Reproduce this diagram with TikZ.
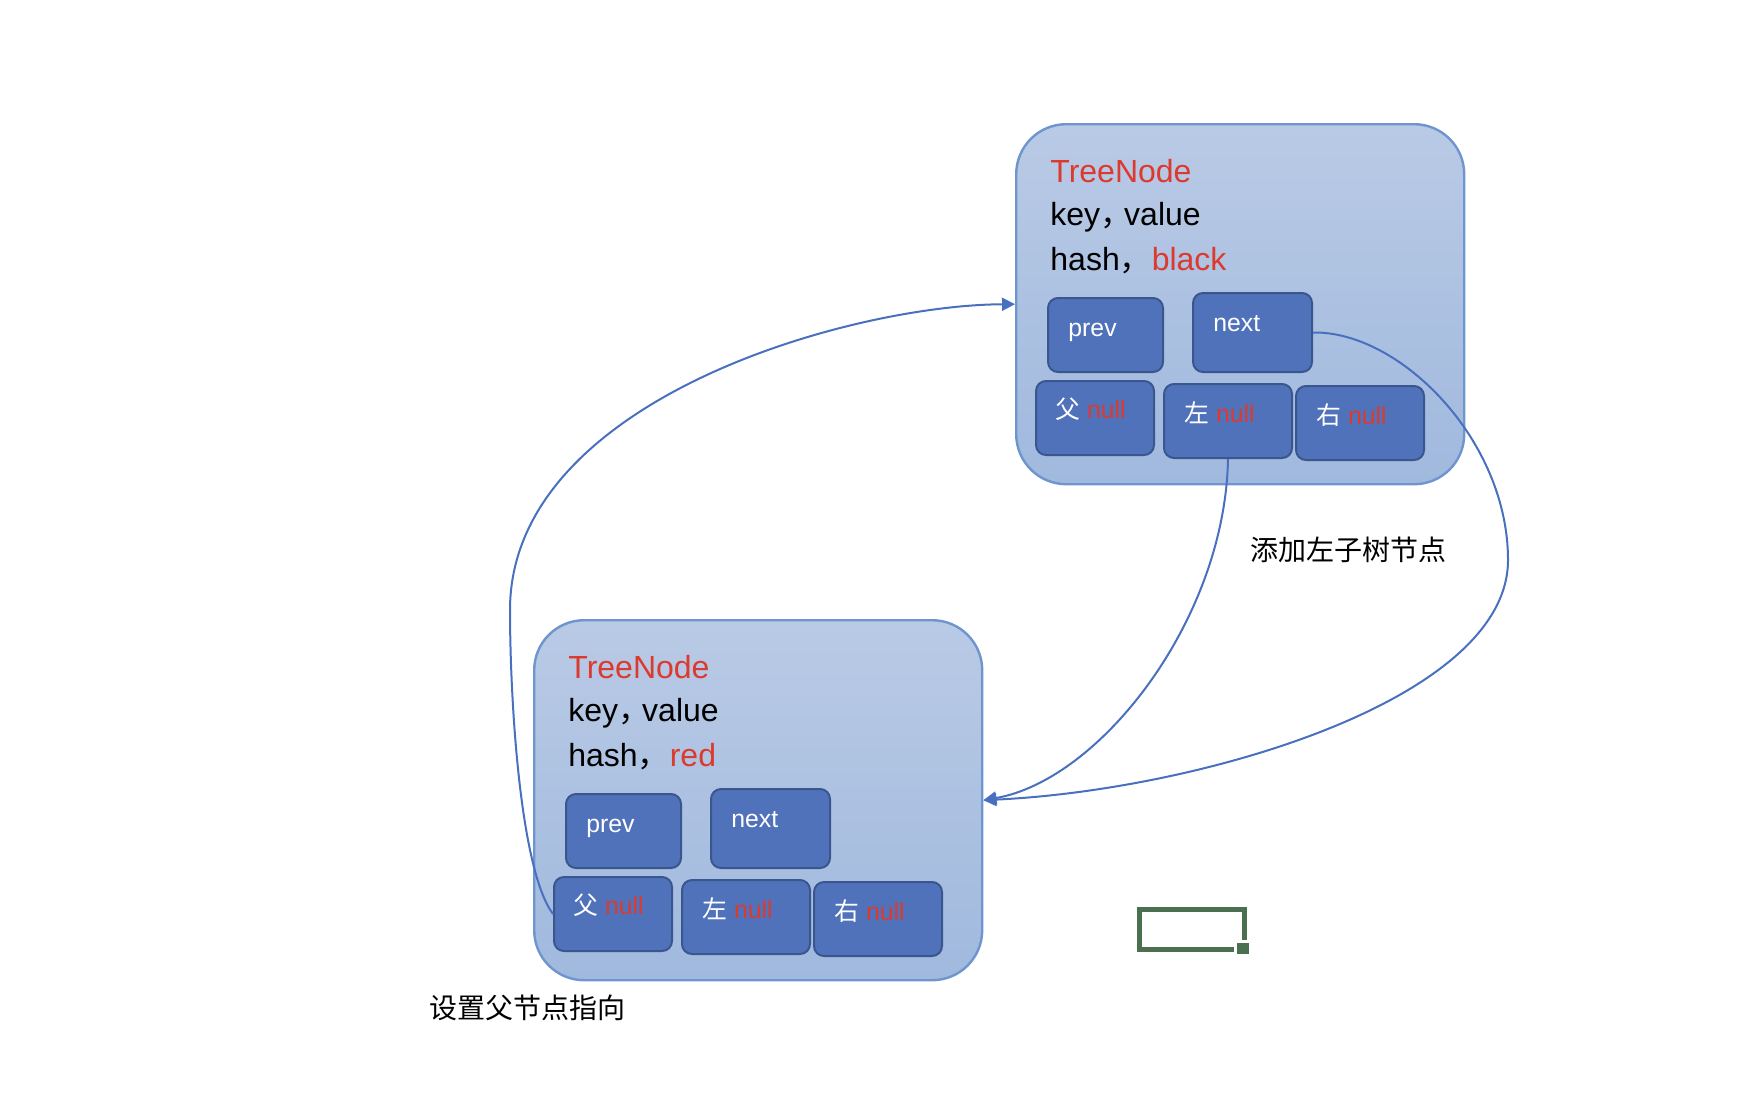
\documentclass[tikz,border=0pt]{standalone}
\usepackage{fontspec}
\setmainfont{Liberation Sans}
\newfontfamily\cjk{Noto Sans CJK SC}
\usetikzlibrary{arrows.meta}

\definecolor{boxtop}{RGB}{185,202,229}
\definecolor{boxbottom}{RGB}{160,185,222}
\definecolor{boxline}{RGB}{110,149,205}
\definecolor{fieldfill}{RGB}{80,114,186}
\definecolor{fieldline}{RGB}{58,86,142}
\definecolor{linkblue}{RGB}{72,112,190}
\definecolor{nullred}{RGB}{220,58,46}
\definecolor{cellgreen}{RGB}{74,112,80}

\begin{document}
\begin{tikzpicture}[
    x=0.5pt, y=-0.5pt,
    % Define styles
    treebox/.style={
        rectangle,
        rounded corners=25pt,
        draw=boxline,
        line width=1.2pt,
        top color=boxtop,
        bottom color=boxbottom,
        minimum width=224pt,
        minimum height=180pt,
        anchor=north west
    },
    field/.style={
        rectangle,
        rounded corners=5pt,
        draw=fieldline,
        line width=1pt,
        fill=fieldfill,
        minimum height=37pt,
        inner sep=0pt,
        anchor=north west
    },
    bigtext/.style={
        anchor=base west,
        inner sep=0pt,
        font=\fontsize{16}{19}\selectfont
    },
    fieldtext/.style={
        anchor=base west,
        inner sep=0pt,
        text=white,
        font=\fontsize{12.4}{15}\selectfont
    },
    note/.style={
        inner sep=0pt,
        font=\cjk\fontsize{14}{17}\selectfont
    },
    arrow/.style={
        -{Triangle[length=6.5pt,width=6.5pt]},
        draw=linkblue,
        line width=1pt
    }
]
\useasboundingbox (0,0) rectangle (1748,1092);

% Set up the two tree nodes
\def\xa{1015}\def\ya{123}
\def\xb{533}\def\yb{619}

% Upper tree node (black)
\node[treebox] (boxA) at (\xa,\ya) {};
\node[bigtext, text=nullred] (titleA) at (\xa+35,\ya+59) {TreeNode};
\node[bigtext] (keyA) at (\xa+35,\ya+102) {key{\cjk ，}\hspace{-4pt}value};
\node[bigtext] (hashA) at (\xa+35,\ya+147) {hash{\cjk ，}\textcolor{nullred}{black}};

\node[field, minimum width=57.5pt] (prevA) at (\xa+32,\ya+174) {};
\node[fieldtext] (prevtA) at (\xa+53,\ya+213) {prev};
\node[field, minimum width=59.5pt, minimum height=39.5pt] (nextA) at (\xa+177,\ya+169) {};
\node[fieldtext] (nexttA) at (\xa+198,\ya+208) {next};
\node[field, minimum width=59pt] (faA) at (\xa+20,\ya+257) {};
\node[fieldtext] (fatA) at (\xa+40,\ya+295) {{\cjk 父} \textcolor{nullred}{null}};
\node[field, minimum width=64pt] (leftA) at (\xa+148,\ya+260) {};
\node[fieldtext] (lefttA) at (\xa+169,\ya+299) {{\cjk 左} \textcolor{nullred}{null}};
\node[field, minimum width=64pt] (rightA) at (\xa+280,\ya+262) {};
\node[fieldtext] (righttA) at (\xa+301,\ya+301) {{\cjk 右} \textcolor{nullred}{null}};

% Lower tree node (red)
\node[treebox] (boxB) at (\xb,\yb) {};
\node[bigtext, text=nullred] (titleB) at (\xb+35,\yb+59) {TreeNode};
\node[bigtext] (keyB) at (\xb+35,\yb+102) {key{\cjk ，}\hspace{-4pt}value};
\node[bigtext] (hashB) at (\xb+35,\yb+147) {hash{\cjk ，}\textcolor{nullred}{red}};

\node[field, minimum width=57.5pt] (prevB) at (\xb+32,\yb+174) {};
\node[fieldtext] (prevtB) at (\xb+53,\yb+213) {prev};
\node[field, minimum width=59.5pt, minimum height=39.5pt] (nextB) at (\xb+177,\yb+169) {};
\node[fieldtext] (nexttB) at (\xb+198,\yb+208) {next};
\node[field, minimum width=59pt] (faB) at (\xb+20,\yb+257) {};
\node[fieldtext] (fatB) at (\xb+40,\yb+295) {{\cjk 父} \textcolor{nullred}{null}};
\node[field, minimum width=64pt] (leftB) at (\xb+148,\yb+260) {};
\node[fieldtext] (lefttB) at (\xb+169,\yb+299) {{\cjk 左} \textcolor{nullred}{null}};
\node[field, minimum width=64pt] (rightB) at (\xb+280,\yb+262) {};
\node[fieldtext] (righttB) at (\xb+301,\yb+301) {{\cjk 右} \textcolor{nullred}{null}};

% Parent pointer
\coordinate (turnA) at (510,610);
\draw[arrow] (faB.west) .. controls (520,870) and (510,700) .. (turnA) .. controls (510,400) and (850,305) .. (boxA.west);

% Left child and next pointers
\draw[arrow] (leftA.south) .. controls (1225,620) and (1100,780) .. (boxB.east);
\coordinate (turnC) at (1508,560);
\draw[arrow] (nextA.east) .. controls (1400,331) and (1508,440) .. (turnC) .. controls (1508,700) and (1200,790) .. (boxB.east);

% Labels
\node[note] (addleft) at (1348,550) {添加左子树节点};
\node[note] (setparent) at (527,1008) {设置父节点指向};

% Selected cell
\draw[cellgreen, line width=2.5pt] (1244.5,940) -- (1244.5,909.5) -- (1139.5,909.5) -- (1139.5,949.5) -- (1234,949.5);
\fill[cellgreen] (1237,943) rectangle (1249,954);
\end{tikzpicture}
\end{document}
